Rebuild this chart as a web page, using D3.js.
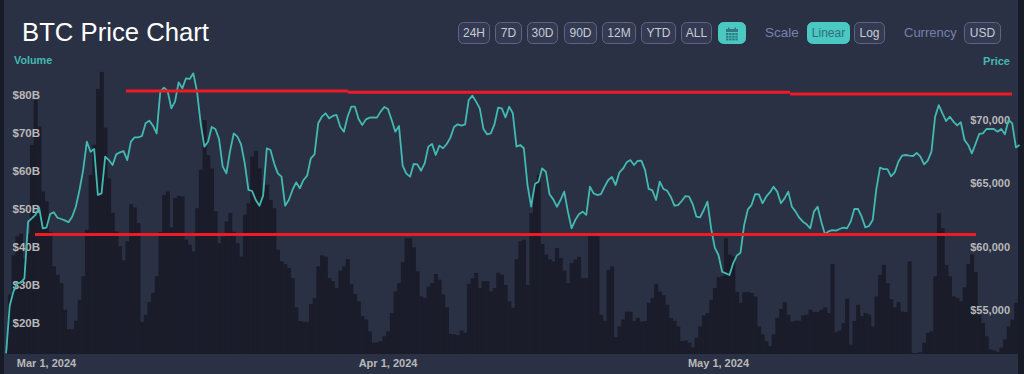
<!DOCTYPE html>
<html><head><meta charset="utf-8">
<script src="https://cdn.jsdelivr.net/npm/d3@7"></script>
<style>
html,body{margin:0;padding:0;background:#171b28;overflow:hidden}
svg{display:block;font-family:"Liberation Sans",Arial,sans-serif}
</style></head><body><svg id="c" width="1024" height="374"></svg>
<script>
const title = "BTC Price Chart";
const rangeLabels = ["24H","7D","30D","90D","12M","YTD","ALL"];
const scaleLabels = ["Linear","Log"];
const currencyLabels = ["USD"];
const volumeTicks = [20,30,40,50,60,70,80];
const priceTicks = [55000,60000,65000,70000];
const dateTicks = ["2024-03-01","2024-04-01","2024-05-01"];
const startTime = "2024-02-26T09:00:00Z";
const stepHours = 8;
const volumes = [13,27.5,37.8,42.8,43.5,37,43.5,66.9,78.7,71.7,54.6,52,44,34.9,32.7,30.5,23.5,18.4,18.3,20.6,26.1,32.3,44.5,59,66.9,81.6,86.1,71.4,58.1,49,44.1,40.2,36.5,41.5,51.3,50.4,46.3,20.3,22.2,25.5,27.9,32.3,44,53.7,54.6,45.2,52.9,53.5,53.3,41.9,40.6,38.8,50.2,60.3,73.4,64.2,60.7,49.4,41,42.8,46.7,48.9,44,41,37.5,48.5,51.5,63.8,65.3,60.7,54.6,56.4,52.4,50.2,39.3,36.2,35.5,34.5,31.8,24.1,20.5,20.3,20.3,25,26.6,34.9,37.8,37.5,31.8,31,29.2,33.8,34.9,36.8,30.3,27.6,25.7,21.8,20.9,17.8,14.8,14.9,15.2,16.5,17.8,22.6,28.3,30.5,36,42.3,42.3,39.9,33.6,27,26.6,29.6,30.5,32.9,31.4,27.5,24.1,17.1,17,16.8,18,17.4,30.3,31.8,33.2,29.2,31,31,28.3,29.2,33.2,32.7,30,25.7,24,36.8,41.5,41.9,30,48.9,56.8,59,40.8,38,36.7,36.2,39.7,37.1,33.8,30.5,35.8,36.7,37.4,31.8,31.8,43.2,42.8,42.8,22.2,20.6,34,34.9,16.3,19.1,20.9,23,23,20.5,21.3,20.3,20.5,25.3,26.6,30.3,28.3,27.3,24.8,21.3,20.6,19.1,15.2,15.4,14.8,13.6,16.1,19.1,22,22.6,26.1,29.2,32,32.3,42.3,38,37.5,28.2,25.3,28.1,28.2,27.9,27,19.1,17,15.2,13.9,17,21.4,23.7,25.5,22.2,20.3,20.6,20.6,22,22.2,23.5,22.9,22.9,23.5,24.1,22.6,35.5,17.6,18,20,26.4,14.3,20.5,24.8,21.8,22.6,22.2,19.1,27,32.7,35.3,30.5,26.3,24.1,25.5,23,22.9,36.2,12.1,12.1,12.3,14.8,17.4,17.8,32.3,48.9,45,35.3,32.3,27,26.6,25.7,29.4,35.5,38,33.4,22.2,20,16.5,13,12.8,12.4,13.5,15.7,19.1,20.9,25.3,26.3];
const prices = [51590,55350,56460,57110,57170,57510,61980,62240,62510,63080,61450,61510,62580,62720,62290,62190,62080,61930,62370,63160,64480,66060,68290,67500,67710,64080,64210,67110,66840,66450,67290,67450,67550,66840,68290,68630,68630,68740,69740,69950,69550,68950,72240,72550,72290,70920,71450,72970,72500,73290,73240,73680,72240,69740,67900,68290,69450,69290,68500,66320,65790,67550,68950,68690,68080,66580,64480,64400,63690,63240,64030,67770,67630,66580,65790,65530,63240,63690,64480,65080,64610,65270,65610,66980,67290,69740,70260,70530,70130,70320,70400,69470,69080,70260,71050,71050,70080,69610,70050,70190,70210,70190,70660,71030,70870,70000,69080,69530,66400,65770,65530,66530,66500,66000,66580,67900,68110,67240,67980,67770,68110,68610,69450,69660,69550,69660,71580,71920,71450,70920,69290,68870,68950,69660,70970,70920,70210,71050,70530,67900,68030,67770,64870,63160,64950,65130,66190,65920,64140,63740,63160,63690,64350,62770,61450,62110,62560,62770,62510,64740,64210,64080,64160,64740,65270,65500,64870,65850,66160,66660,66840,66450,66770,66790,66060,64560,64450,63690,65130,64560,64430,63950,63240,63290,63610,64000,63950,63350,62370,62320,62900,63560,61450,59930,59350,58030,57900,57770,58690,59300,59530,61720,62950,63290,64160,64140,63430,63950,64290,64740,64350,63430,63820,64350,63160,62770,62290,61980,61770,61450,62770,63160,61980,60980,61220,61320,61270,61400,61510,61450,61980,62980,62980,62370,61530,61640,62110,64560,66240,66130,66130,65560,65870,66710,67190,67240,67190,67160,67400,67110,66500,66790,67500,70260,71180,70530,69920,70260,69870,69580,69820,68420,68030,67370,68110,68900,68950,69290,69290,69290,69080,69290,68870,70000,69740,67840,68030];
const resistanceLevels = [
  {from:"2024-03-08T06:00:00Z", to:"2024-03-28T10:00:00Z", level:72280},
  {from:"2024-03-28T10:00:00Z", to:"2024-05-07T13:00:00Z", level:72200},
  {from:"2024-05-07T13:00:00Z", to:"2024-05-27T16:30:00Z", level:72060}
];
const supportLevels = [{from:"2024-02-29T00:00:00Z", to:"2024-05-24T10:00:00Z", level:60960}];

const colors = {card:"#2b3144", bar:"#1a1c2a", line:"#42bab2", red:"#f01a24", teal:"#4ac8c1", axis:"#b8b8b8"};
const svg = d3.select("#c");
const T = d => new Date(d);
const x = d3.scaleUtc().domain([T(dateTicks[0]),T(dateTicks[2])]).range([46,718]);
const yV = d3.scaleLinear().domain([11.84,87.9]).range([354,65]);
const yP = d3.scaleLinear().domain([51540,74340]).range([354,65]);
const time = i => new Date(+T(startTime)+i*stepHours*36e5);

svg.append("rect").attr("x",4).attr("y",-8).attr("width",1014).attr("height",390).attr("rx",6).attr("fill",colors.card);
svg.append("defs").append("clipPath").attr("id","plot").append("rect").attr("x",5).attr("y",60).attr("width",1013).attr("height",294);

svg.append("text").text(title).attr("x",22).attr("y",41).attr("font-size",25.7).attr("fill","#fff");

// volume bars
const bw = x(time(1))-x(time(0));
svg.append("g").attr("clip-path","url(#plot)").selectAll("rect").data(volumes).join("rect")
  .attr("x",(d,i)=>x(time(i))-bw/2).attr("width",bw+.4)
  .attr("y",d=>yV(d)).attr("height",d=>354-yV(d)).attr("fill",colors.bar);

// axes
const fmtV = d=>"$"+d+"B";
const fmtP = d3.format("$,");
const styleAxis = size => g => {g.select(".domain").remove();g.selectAll("line").remove();
  g.selectAll("text").attr("font-size",size).attr("font-weight","bold").attr("fill",colors.axis).attr("font-family",'"Liberation Sans",Arial,sans-serif');};
svg.append("g").attr("transform","translate(40,0)").call(d3.axisLeft(yV).tickValues(volumeTicks).tickFormat(fmtV).tickSize(0).tickPadding(0)).call(styleAxis(11.5));
svg.append("g").attr("transform","translate(1010,0)").call(d3.axisLeft(yP).tickValues(priceTicks).tickFormat(fmtP).tickSize(0).tickPadding(0)).call(styleAxis(11));
svg.append("g").attr("transform","translate(0,354)").call(d3.axisBottom(x).tickValues(dateTicks.map(T)).tickFormat(d3.utcFormat("%b %-d, %Y")).tickSize(0).tickPadding(5)).call(styleAxis(11));

svg.append("text").text("Volume").attr("x",14).attr("y",64).attr("font-size",10.8).attr("font-weight","bold").attr("fill",colors.line);
svg.append("text").text("Price").attr("x",1010).attr("y",65).attr("text-anchor","end").attr("font-size",11).attr("font-weight","bold").attr("fill",colors.line);

// price line
svg.append("path").datum(prices).attr("fill","none").attr("stroke",colors.line).attr("stroke-width",1.8).attr("stroke-linejoin","round")
  .attr("d",d3.line().x((d,i)=>x(time(i))).y(d=>yP(d)));

// hand-drawn levels
svg.append("g").selectAll("line").data(resistanceLevels.concat(supportLevels)).join("line")
  .attr("x1",d=>x(T(d.from))).attr("x2",d=>x(T(d.to))).attr("y1",d=>yP(d.level)).attr("y2",d=>yP(d.level))
  .attr("stroke",colors.red).attr("stroke-width",3);

// toolbar
function button(label,x0,w,active){
  const g=svg.append("g");
  g.append("rect").attr("x",x0+.5).attr("y",22.5).attr("width",w-1).attr("height",21).attr("rx",5)
    .attr("fill",active?colors.teal:"#333a52").attr("stroke",active?colors.teal:"#5c6682");
  if(label) g.append("text").text(label).attr("x",x0+w/2).attr("y",37).attr("text-anchor","middle").attr("font-size",12)
    .attr("fill",active?"#2f6f7c":"#c8ccd6");
  return g;
}
const rangeX=[458,495,527,564,602,641,681], rangeW=[32,27,31,33,34,35,31];
rangeLabels.forEach((l,i)=>button(l,rangeX[i],rangeW[i],false));
const cal=button("",718,28,true);
const ic="#2f7a84";
cal.append("rect").attr("x",726).attr("y",29).attr("width",12).attr("height",3).attr("fill",ic);
d3.range(3).forEach(r=>d3.range(4).forEach(c=>cal.append("rect").attr("x",726+c*3.1).attr("y",33+r*2.7).attr("width",2.4).attr("height",2).attr("fill",ic)));
cal.append("rect").attr("x",728).attr("y",27.5).attr("width",1.5).attr("height",2).attr("fill",ic);
cal.append("rect").attr("x",734.5).attr("y",27.5).attr("width",1.5).attr("height",2).attr("fill",ic);
svg.append("text").text("Scale").attr("x",765).attr("y",37).attr("font-size",13.5).attr("fill","#7482ac");
button(scaleLabels[0],807,43,true);
button(scaleLabels[1],854,31,false);
svg.append("text").text("Currency").attr("x",904).attr("y",37).attr("font-size",13).attr("fill","#7482ac");
button(currencyLabels[0],964,37,false);
</script></body></html>
